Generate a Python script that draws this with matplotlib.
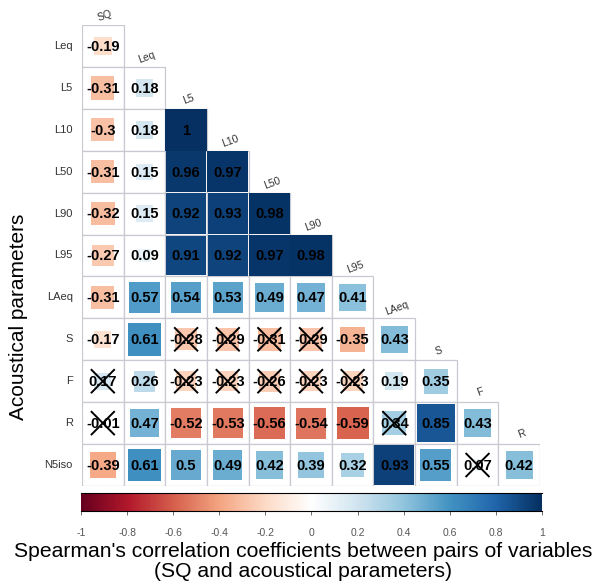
import matplotlib.pyplot as plt
import numpy as np
from matplotlib.colors import LinearSegmentedColormap
from matplotlib.patches import Rectangle

plt.rcParams['font.family'] = ['Liberation Sans', 'DejaVu Sans']

col_labels = ["SQ", "Leq", "L5", "L10", "L50", "L90", "L95", "LAeq", "S", "F", "R"]
row_labels = ["Leq", "L5", "L10", "L50", "L90", "L95", "LAeq", "S", "F", "R", "N5iso"]

# lower triangle, row i holds columns 0..i
rho = [
    [-0.19],
    [-0.31, 0.18],
    [-0.3, 0.18, 1],
    [-0.31, 0.15, 0.96, 0.97],
    [-0.32, 0.15, 0.92, 0.93, 0.98],
    [-0.27, 0.09, 0.91, 0.92, 0.97, 0.98],
    [-0.31, 0.57, 0.54, 0.53, 0.49, 0.47, 0.41],
    [-0.17, 0.61, -0.28, -0.29, -0.31, -0.29, -0.35, 0.43],
    [0.17, 0.26, -0.23, -0.23, -0.26, -0.23, -0.23, 0.19, 0.35],
    [-0.01, 0.47, -0.52, -0.53, -0.56, -0.54, -0.59, 0.34, 0.85, 0.43],
    [-0.39, 0.61, 0.5, 0.49, 0.42, 0.39, 0.32, 0.93, 0.55, 0.07, 0.42],
]

# pairs that are not significant (crossed out)
not_sig = [
    ("S", "L5"), ("S", "L10"), ("S", "L50"), ("S", "L90"),
    ("F", "SQ"), ("F", "L5"), ("F", "L10"), ("F", "L50"), ("F", "L90"), ("F", "L95"),
    ("R", "SQ"), ("R", "LAeq"),
    ("N5iso", "F"),
]

cbar_ticks = [-1, -0.8, -0.6, -0.4, -0.2, 0, 0.2, 0.4, 0.6, 0.8, 1]

rdbu = ["#67001F", "#B2182B", "#D6604D", "#F4A582", "#FDDBC7", "#FFFFFF",
        "#D1E5F0", "#92C5DE", "#4393C3", "#2166AC", "#053061"]
cmap = LinearSegmentedColormap.from_list("corr", rdbu, N=200)

fig = plt.figure(figsize=(6.03, 5.82), dpi=100)
ax = fig.add_axes([0.136, 0.165, 0.7595, 0.792])
ax.set_xlim(0, 11)
ax.set_ylim(11, 0)
ax.axis("off")

for i, row in enumerate(rho):
    for j, r in enumerate(row):
        ax.add_patch(Rectangle((j, i), 1, 1, facecolor="white", edgecolor="#c9c9d2", lw=0.9, zorder=1))
        side = np.sqrt(abs(r))
        ax.add_patch(Rectangle((j + 0.5 - side / 2, i + 0.5 - side / 2), side, side,
                               facecolor=cmap((r + 1) / 2), edgecolor="none", zorder=2))
        ax.text(j + 0.5, i + 0.52, f"{r:g}", ha="center", va="center", fontsize=10.5,
                fontweight="bold", color="black", zorder=4)
        if (row_labels[i], col_labels[j]) in not_sig:
            d = 0.27
            ax.plot([j + 0.5 - d, j + 0.5 + d], [i + 0.5 - d, i + 0.5 + d], color="black", lw=1.4, zorder=5)
            ax.plot([j + 0.5 - d, j + 0.5 + d], [i + 0.5 + d, i + 0.5 - d], color="black", lw=1.4, zorder=5)

for i, lab in enumerate(row_labels):
    ax.text(-0.22, i + 0.5, lab, ha="right", va="center", fontsize=8, color="#333333")

for j, lab in enumerate(col_labels):
    ax.text(j + 0.6, j - 0.12, lab, ha="center", va="bottom", fontsize=7.5, color="#333333",
            rotation=20, rotation_mode="anchor")

# colour legend
cax = fig.add_axes([0.1343, 0.122, 0.7645, 0.031])
grad = np.linspace(-1, 1, 400).reshape(1, -1)
cax.imshow(grad, aspect="auto", cmap=cmap, vmin=-1, vmax=1, extent=[-1, 1, 0, 1])
cax.set_xlim(-1, 1)
cax.set_yticks([])
cax.set_xticks(cbar_ticks)
cax.set_xticklabels([f"{t:g}" for t in cbar_ticks], fontsize=7.5, color="#555555")
cax.tick_params(axis="x", length=3, width=0.6, color="#555555", pad=9)
for s in ["left", "right"]:
    cax.spines[s].set_visible(False)
for s in ["top", "bottom"]:
    cax.spines[s].set_linewidth(0.8)

fig.text(0.502, 0.052, "Spearman's correlation coefficients between pairs of variables",
         ha="center", va="center", fontsize=15.2)
fig.text(0.502, 0.018, "(SQ and acoustical parameters)", ha="center", va="center", fontsize=15.2)
fig.text(0.03, 0.455, "Acoustical parameters", rotation=90, ha="center", va="center", fontsize=15)

fig.savefig("out.png", dpi=100)
